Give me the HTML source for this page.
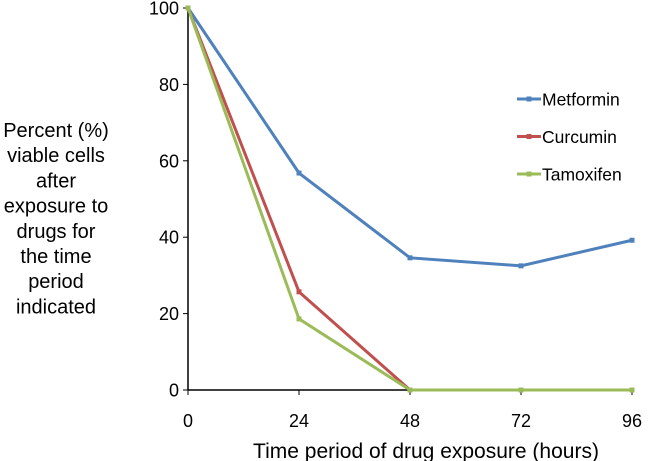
<!DOCTYPE html>
<html><head><meta charset="utf-8"><style>
body{margin:0;background:#fff;}
svg{display:block;font-family:"Liberation Sans",Arial,sans-serif;}
</style></head><body>
<svg id="chart" width="650" height="461"></svg>
<script>
const categories=[0,24,48,72,96];
const metformin=[100,56.8,34.6,32.5,39.2];
const curcumin=[100,25.7,0,0,0];
const tamoxifen=[100,18.6,0,0,0];
const yTicks=[0,20,40,60,80,100];
const seriesNames=["Metformin","Curcumin","Tamoxifen"];
const ns="http://www.w3.org/2000/svg";
const svg=document.getElementById('chart');
const x=v=>188+(v/96)*444;
const y=v=>390-(v/100)*382;
function el(t,a,p){const e=document.createElementNS(ns,t);for(const k in a)e.setAttribute(k,a[k]);(p||svg).appendChild(e);return e;}
let ax=el('line',{x1:188,y1:8,x2:188,y2:390,stroke:'#000','stroke-width':1.5});


ax=el('line',{x1:188,y1:390,x2:632,y2:390,stroke:'#000','stroke-width':1.5});


yTicks.forEach(t=>{
 const l=el('line',{x1:183,x2:188,y1:y(t),y2:y(t),stroke:'#000'});
 
 
 const tx=el('text',{x:179,y:y(t)+6.5,'text-anchor':'end','font-size':18,fill:'#000'});
 tx.textContent=t;
 
 
});
categories.forEach(c=>{
 const l=el('line',{x1:x(c),x2:x(c),y1:390,y2:395,stroke:'#000'});
 
 
 const tx=el('text',{x:x(c),y:427,'text-anchor':'middle','font-size':18,fill:'#000'});
 tx.textContent=c;
 
 
});
const xt=el('text',{x:426,y:458,'text-anchor':'middle','font-size':21,fill:'#000'});
xt.textContent='Time period of drug exposure (hours)';


const ylines=['Percent (%)','viable cells','after','exposure to','drugs for','the time','period','indicated'];
const yt=el('text',{'text-anchor':'middle','font-size':20,fill:'#000'});


ylines.forEach((s,i)=>{const ts=el('tspan',{x:56,y:137+i*25.2},yt);ts.textContent=s;});
const series=[[metformin,'#4f81bd'],[curcumin,'#c0504d'],[tamoxifen,'#9bbb59']];
series.forEach(([vals,col],si)=>{
 const pts=vals.map((v,i)=>x(categories[i])+','+y(v)).join(' ');
 const pl=el('polyline',{points:pts,fill:'none',stroke:col,'stroke-width':3});
 
 
 vals.forEach((v,i)=>{
  const m=el('rect',{x:x(categories[i])-2.5,y:y(v)-2.5,width:5,height:5,fill:col});
  
  
 });
 const ly=99+si*37.5;
 const ll=el('line',{x1:517,x2:541,y1:ly,y2:ly,stroke:col,'stroke-width':3});
 
 
 const lm=el('rect',{x:526.5,y:ly-2.5,width:5,height:5,fill:col});
 
 
 const lt=el('text',{x:542,y:ly+6.5,'font-size':17.5,fill:'#000'});
 lt.textContent=seriesNames[si];
 
 
});
</script>
</body></html>
